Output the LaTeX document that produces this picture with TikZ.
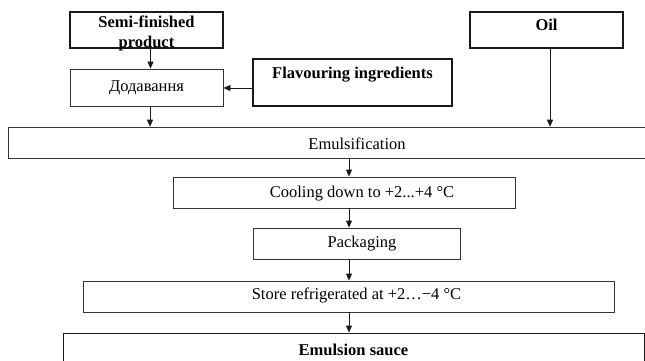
\documentclass[tikz,border=0pt]{standalone}
\usepackage{fontspec}
\setmainfont{Liberation Serif}
\usetikzlibrary{arrows.meta}
\tikzset{every picture/.style={x=1pt,y=-1pt}}

\begin{document}
\begin{tikzpicture}[
    box/.style={draw=black!80, line width=0.9pt, inner sep=0pt, font=\fontsize{16.5}{20}\selectfont, align=center},
    bbox/.style={box, draw=black!90, line width=1.3pt, font=\fontsize{16.5}{20}\selectfont\bfseries},
    lbl/.style={inner sep=0pt, font=\fontsize{16.5}{20}\selectfont},
    flow/.style={-{Triangle[length=7pt,width=6pt]}, line width=0.9pt, black!90}]
    % Fix the page size
    \useasboundingbox (0,0) rectangle (645,361);
    \fill[white] (0,0) rectangle (645,361);

    % Input boxes
    \node[bbox, minimum width=153pt, minimum height=36pt,
          label={[lbl, font=\fontsize{16.5}{20}\selectfont\bfseries, align=center, yshift=-3pt]center:Semi-finished\\product}] (semi) at (146.5,30) {};
    \node[bbox, minimum width=153pt, minimum height=36pt,
          label={[lbl, font=\fontsize{16.5}{20}\selectfont\bfseries, yshift=5pt]center:Oil}] (oil) at (546.5,30) {};
    \node[box, minimum width=153pt, minimum height=37pt] (dod) at (146.5,87.5) {Додавання};
    \node[bbox, minimum width=199pt, minimum height=47pt,
          label={[lbl, font=\fontsize{16.5}{20}\selectfont\bfseries, yshift=7.5pt]center:Flavouring ingredients}] (flav) at (352.5,82.5) {};

    % Process steps
    \node[box, line width=0.7pt, minimum width=698pt, minimum height=31pt,
          label={[lbl, yshift=-1.5pt]center:Emulsification}] (emul) at (357,142.5) {};
    \node[box, minimum width=342pt, minimum height=31pt,
          label={[lbl, xshift=18pt, yshift=-1.5pt]center:Cooling down to +2...+4 °C}] (cool) at (344,192.5) {};
    \node[box, minimum width=207pt, minimum height=31pt,
          label={[lbl, xshift=5.5pt]center:Packaging}] (pack) at (356.5,243.5) {};
    \node[box, minimum width=531pt, minimum height=31pt,
          label={[lbl, xshift=8pt, yshift=1.5pt]center:Store refrigerated at +2…−4 °C}] (store) at (348.5,296.5) {};
    \node[bbox, line width=0.9pt, minimum width=581pt, minimum height=38pt,
          label={[lbl, font=\fontsize{16.5}{20}\selectfont\bfseries, yshift=2pt]center:Emulsion sauce}] (sauce) at (353.5,352) {};

    % Axis of the lower arrows
    \coordinate (axis) at (349,0);

    % Arrows
    \draw[flow] ([xshift=4pt]semi.south) -- ([xshift=4pt]dod.north);
    \draw[flow] (flav.west |- 0,88) -- (dod.east |- 0,88);
    \draw[flow] ([xshift=3.5pt]dod.south) -- ([xshift=3.5pt]dod.south |- emul.north);
    \draw[flow] ([xshift=3.5pt]oil.south) -- ([xshift=3.5pt]oil.south |- emul.north);
    \draw[flow] (axis |- emul.south) -- (axis |- cool.north);
    \draw[flow] (axis |- cool.south) -- (axis |- pack.north);
    \draw[flow] (axis |- pack.south) -- (axis |- store.north);
    \draw[flow] (axis |- store.south) -- (axis |- sauce.north);
\end{tikzpicture}
\end{document}
